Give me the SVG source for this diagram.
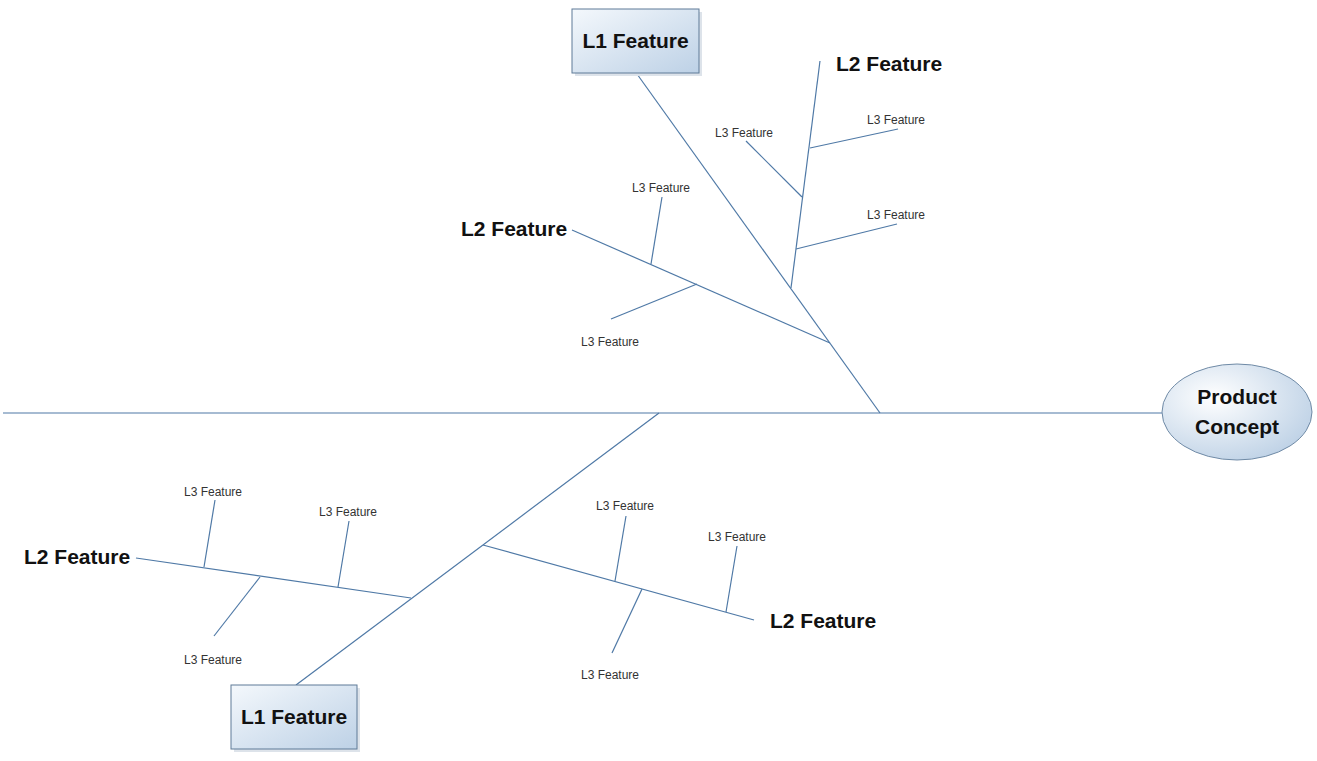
<svg xmlns="http://www.w3.org/2000/svg" width="1317" height="761" viewBox="0 0 1317 761">
<defs>
<linearGradient id="boxGrad" x1="0" y1="0" x2="1" y2="1">
<stop offset="0" stop-color="#f4f8fc"/>
<stop offset="1" stop-color="#bdd1e6"/>
</linearGradient>
<radialGradient id="ellGrad" cx="0.35" cy="0.35" r="0.75">
<stop offset="0" stop-color="#ffffff"/>
<stop offset="1" stop-color="#bcd0e5"/>
</radialGradient>
<style>
.bone{stroke:#4f79a6;stroke-width:1.2;fill:none}
.box{fill:url(#boxGrad);stroke:#5f7b97;stroke-width:1}
.shadow{fill:#dde3ea}
.l1{font-family:"Liberation Sans",Arial,sans-serif;font-weight:bold;font-size:21px;fill:#111}
.l2{font-family:"Liberation Sans",Arial,sans-serif;font-weight:bold;font-size:21px;fill:#111}
.l3{font-family:"Liberation Sans",Arial,sans-serif;font-size:12px;fill:#333}
</style>
</defs>
<rect width="1317" height="761" fill="#ffffff"/>
<g id="connectors">
<line class="bone" x1="3" y1="413" x2="1162" y2="413"/>
<line class="bone" x1="637" y1="74" x2="880" y2="413"/>
<line class="bone" x1="572" y1="230" x2="830" y2="343"/>
<line class="bone" x1="662" y1="197" x2="651" y2="264"/>
<line class="bone" x1="611" y1="319" x2="697" y2="284"/>
<line class="bone" x1="820" y1="61" x2="791" y2="288"/>
<line class="bone" x1="746" y1="141" x2="802" y2="197"/>
<line class="bone" x1="810" y1="148" x2="898" y2="129"/>
<line class="bone" x1="796" y1="249" x2="897" y2="224"/>
<line class="bone" x1="296" y1="685" x2="659" y2="413"/>
<line class="bone" x1="136" y1="558" x2="411" y2="598"/>
<line class="bone" x1="215" y1="500" x2="204" y2="567"/>
<line class="bone" x1="349" y1="521" x2="338" y2="587"/>
<line class="bone" x1="214" y1="636" x2="260" y2="577"/>
<line class="bone" x1="483" y1="545" x2="754" y2="620"/>
<line class="bone" x1="626" y1="516" x2="615" y2="581"/>
<line class="bone" x1="737" y1="546" x2="726" y2="612"/>
<line class="bone" x1="612" y1="653" x2="642" y2="589"/>
</g>
<g id="product-concept">
<ellipse cx="1237" cy="412" rx="75" ry="48" fill="url(#ellGrad)" stroke="#6f8aa6" stroke-width="1"/>
<text class="l1" x="1237" y="404" text-anchor="middle">Product</text>
<text class="l1" x="1237" y="434" text-anchor="middle">Concept</text>
</g>
<g id="l1-top">
<rect class="shadow" x="575" y="12" width="127" height="64"/>
<rect class="box" x="572" y="9" width="127" height="64"/>
<text class="l1" x="635.5" y="48" text-anchor="middle">L1 Feature</text>
</g>
<g id="l1-bottom">
<rect class="shadow" x="234" y="688" width="126" height="64"/>
<rect class="box" x="231" y="685" width="126" height="64"/>
<text class="l1" x="294" y="724" text-anchor="middle">L1 Feature</text>
</g>
<g id="l2-top-left"><text class="l2" x="461" y="236">L2 Feature</text></g>
<g id="l2-top-right"><text class="l2" x="836" y="71">L2 Feature</text></g>
<g id="l2-bottom-left"><text class="l2" x="24" y="564">L2 Feature</text></g>
<g id="l2-bottom-right"><text class="l2" x="770" y="628">L2 Feature</text></g>
<g id="l3-labels">
<text class="l3" x="632" y="192">L3 Feature</text>
<text class="l3" x="581" y="346">L3 Feature</text>
<text class="l3" x="715" y="137">L3 Feature</text>
<text class="l3" x="867" y="124">L3 Feature</text>
<text class="l3" x="867" y="219">L3 Feature</text>
<text class="l3" x="184" y="496">L3 Feature</text>
<text class="l3" x="319" y="516">L3 Feature</text>
<text class="l3" x="184" y="664">L3 Feature</text>
<text class="l3" x="596" y="510">L3 Feature</text>
<text class="l3" x="708" y="541">L3 Feature</text>
<text class="l3" x="581" y="679">L3 Feature</text>
</g>
</svg>
